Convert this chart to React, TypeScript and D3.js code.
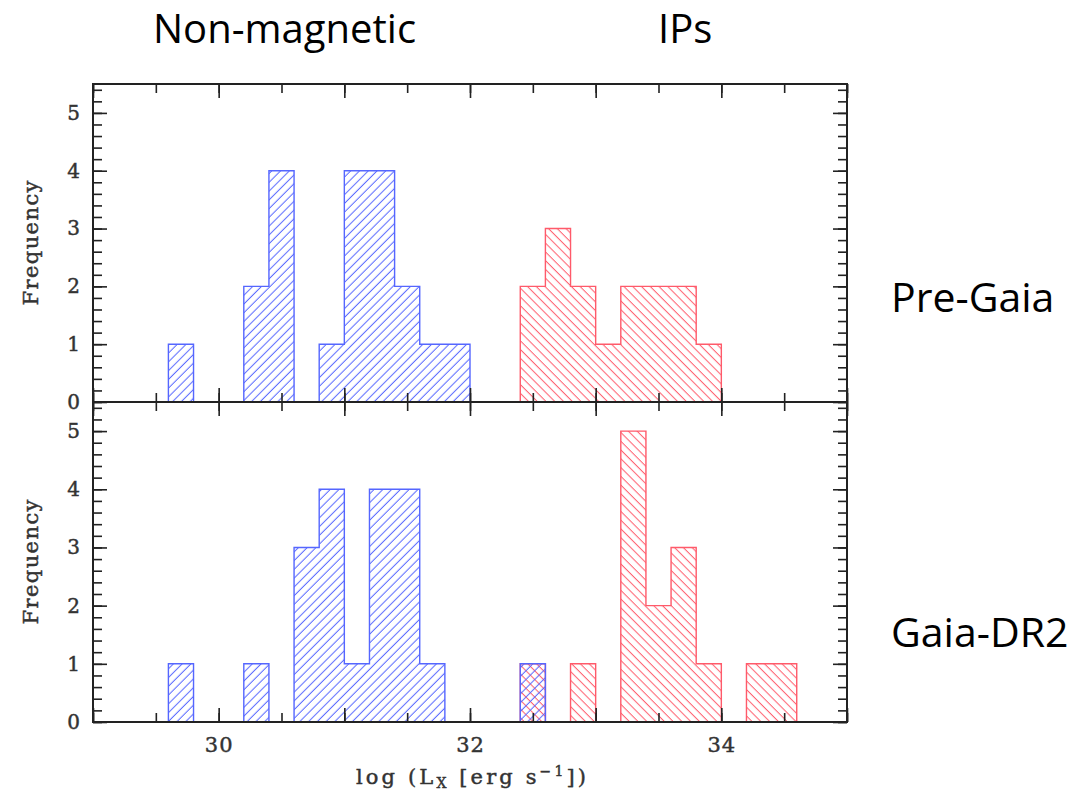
import React, { useRef, useEffect } from 'react';
import * as d3 from 'd3';

// histogram bins are 0.2 dex wide; edges below are the left edge of each non-empty bin
const binWidth = 0.2;

const preNonMagEdges = [29.6, 30.2, 30.4, 30.8, 31.0, 31.2, 31.4, 31.6, 31.8];
const preNonMagCounts = [1, 2, 4, 1, 4, 4, 2, 1, 1];
const preIPEdges = [32.4, 32.6, 32.8, 33.0, 33.2, 33.4, 33.6, 33.8];
const preIPCounts = [2, 3, 2, 1, 2, 2, 2, 1];

const dr2NonMagEdges = [29.6, 30.2, 30.6, 30.8, 31.0, 31.2, 31.4, 31.6, 32.4];
const dr2NonMagCounts = [1, 1, 3, 4, 1, 4, 4, 1, 1];
const dr2IPEdges = [32.4, 32.8, 33.2, 33.4, 33.6, 33.8, 34.2, 34.4];
const dr2IPCounts = [1, 1, 5, 2, 3, 1, 1, 1];

const xDomain: [number, number] = [29, 35];
const yDomain: [number, number] = [0, 5.5];
const xLabelTicks = [30, 32, 34];
const yLabelTicks = [0, 1, 2, 3, 4, 5];

const columnTitles = ['Non-magnetic', 'IPs'];
const panelTitles = ['Pre-Gaia', 'Gaia-DR2'];

const W = 1085;
const H = 792;

const App: React.FC = () => {
  const svgRef = useRef<SVGSVGElement | null>(null);

  useEffect(() => {
    if (!svgRef.current) return;
    const svg = d3.select(svgRef.current);
    svg.selectAll('*').remove();

    const colors = {
      blue: '#5566ff',
      red: '#ff5a6a',
      axis: '#222',
      text: '#333',
    };
    const serif = '"DejaVu Serif", serif';

    const left = 93;
    const right = 847;
    const panels = [
      { top: 84, bottom: 402, title: panelTitles[0], titleY: 312,
        series: [
          { edges: preIPEdges, counts: preIPCounts, color: colors.red, hatch: 'hatchRed' },
          { edges: preNonMagEdges, counts: preNonMagCounts, color: colors.blue, hatch: 'hatchBlue' },
        ] },
      { top: 402, bottom: 722, title: panelTitles[1], titleY: 647,
        series: [
          { edges: dr2IPEdges, counts: dr2IPCounts, color: colors.red, hatch: 'hatchRed' },
          { edges: dr2NonMagEdges, counts: dr2NonMagCounts, color: colors.blue, hatch: 'hatchBlue' },
        ] },
    ];

    const x = d3.scaleLinear().domain(xDomain).range([left, right]);

    // hatch patterns
    const defs = svg.append('defs');
    const addHatch = (id: string, color: string, angle: number) => {
      const p = defs.append('pattern')
        .attr('id', id)
        .attr('patternUnits', 'userSpaceOnUse')
        .attr('width', 6.2)
        .attr('height', 10)
        .attr('patternTransform', `rotate(${angle})`);
      p.append('line')
        .attr('x1', 3).attr('y1', 0)
        .attr('x2', 3).attr('y2', 10)
        .attr('stroke', color)
        .attr('stroke-width', 1);
    };
    addHatch('hatchBlue', colors.blue, 45);
    addHatch('hatchRed', colors.red, -45);

    const nBins = Math.round((xDomain[1] - xDomain[0]) / binWidth);
    const toSteps = (edges: number[], counts: number[]) => {
      const full = new Array(nBins).fill(0);
      edges.forEach((e, i) => {
        full[Math.round((e - xDomain[0]) / binWidth)] = counts[i];
      });
      const pts: [number, number][] = full.map((c, i) => [xDomain[0] + i * binWidth, c]);
      pts.push([xDomain[1], 0]);
      return pts;
    };

    const boldText = (sel: d3.Selection<any, unknown, any, any>) =>
      sel.attr('fill', colors.text)
        .attr('stroke', colors.text)
        .attr('stroke-width', 0.45)
        .attr('font-family', serif);

    panels.forEach((panel) => {
      const y = d3.scaleLinear().domain(yDomain).range([panel.bottom, panel.top]);
      const g = svg.append('g');

      const area = d3.area<[number, number]>()
        .curve(d3.curveStepAfter)
        .x((d) => x(d[0]))
        .y0(y(0))
        .y1((d) => y(d[1]));
      const line = d3.line<[number, number]>()
        .curve(d3.curveStepAfter)
        .x((d) => x(d[0]))
        .y((d) => y(d[1]));

      panel.series.forEach((s) => {
        g.append('path')
          .attr('d', area(toSteps(s.edges, s.counts)))
          .attr('fill', `url(#${s.hatch})`);
      });
      panel.series.forEach((s) => {
        g.append('path')
          .attr('d', line(toSteps(s.edges, s.counts)))
          .attr('fill', 'none')
          .attr('stroke', s.color)
          .attr('stroke-width', 1.4);
      });

      // axes: inward ticks on all four sides, minor + major
      const styleAxis = (sel: d3.Selection<SVGGElement, unknown, null, undefined>) => {
        sel.select('.domain').remove();
        sel.selectAll('line').attr('stroke', colors.axis).attr('stroke-width', 1.6);
        sel.selectAll('text').attr('font-size', 20).call(boldText);
      };
      const yMinor = d3.range(0, 5.41, 0.2);
      const xMinor = d3.range(29, 35.01, 0.5);

      g.append('g').attr('transform', `translate(${left},0)`)
        .call(d3.axisLeft(y).tickValues(yMinor).tickSize(-9).tickFormat(() => ''))
        .call(styleAxis);
      g.append('g').attr('transform', `translate(${left},0)`)
        .call(d3.axisLeft(y).tickValues(yLabelTicks).tickSize(-14).tickPadding(13).tickFormat(d3.format('d')))
        .call(styleAxis);
      g.append('g').attr('transform', `translate(${right},0)`)
        .call(d3.axisRight(y).tickValues(yMinor).tickSize(-9).tickFormat(() => ''))
        .call(styleAxis);
      g.append('g').attr('transform', `translate(${right},0)`)
        .call(d3.axisRight(y).tickValues(yLabelTicks).tickSize(-14).tickFormat(() => ''))
        .call(styleAxis);

      g.append('g').attr('transform', `translate(0,${panel.top})`)
        .call(d3.axisTop(x).tickValues(xMinor).tickSize(-9).tickFormat(() => ''))
        .call(styleAxis);
      g.append('g').attr('transform', `translate(0,${panel.top})`)
        .call(d3.axisTop(x).ticks(6).tickSize(-14).tickFormat(() => ''))
        .call(styleAxis);
      g.append('g').attr('transform', `translate(0,${panel.bottom})`)
        .call(d3.axisBottom(x).tickValues(xMinor).tickSize(-9).tickFormat(() => ''))
        .call(styleAxis);
      const isLower = panel.bottom > 500;
      g.append('g').attr('transform', `translate(0,${panel.bottom})`)
        .call(d3.axisBottom(x).ticks(6).tickSize(-14).tickPadding(15)
          .tickFormat((d) => (isLower && xLabelTicks.includes(+d) ? String(d) : '')))
        .call(styleAxis)
        .selectAll('text').attr('font-size', 21).attr('letter-spacing', 1);

      // frame
      g.append('rect')
        .attr('x', left).attr('y', panel.top)
        .attr('width', right - left).attr('height', panel.bottom - panel.top)
        .attr('fill', 'none')
        .attr('stroke', colors.axis)
        .attr('stroke-width', 2);

      // y label
      const cy = (panel.top + panel.bottom) / 2;
      g.append('text')
        .attr('transform', `translate(38,${cy}) rotate(-90)`)
        .attr('text-anchor', 'middle')
        .attr('font-size', 21)
        .call(boldText)
        .attr('textLength', 125)
        .attr('lengthAdjust', 'spacing')
        .text('Frequency');

      // panel title on the right
      svg.append('text')
        .attr('x', 891)
        .attr('y', panel.titleY)
        .attr('font-family', '"Open Sans", sans-serif')
        .attr('font-size', 41)
        .attr('fill', '#000')
        .text(panel.title);
    });

    // x-axis label
    const xl = svg.append('text')
      .attr('x', 471)
      .attr('y', 784)
      .attr('text-anchor', 'middle')
      .attr('font-size', 21)
      .call(boldText)
      .attr('textLength', 230)
      .attr('lengthAdjust', 'spacing');
    xl.append('tspan').text('log (L');
    xl.append('tspan').attr('font-size', 14).attr('dy', 4).text('X');
    xl.append('tspan').attr('dy', -4).text(' [erg s');
    xl.append('tspan').attr('font-size', 14).attr('dy', -8).text('\u22121');
    xl.append('tspan').attr('dy', 8).text('])');

    // column titles
    const titleX = [153, 658];
    columnTitles.forEach((t, i) => {
      svg.append('text')
        .attr('x', titleX[i])
        .attr('y', 43)
        .attr('font-family', '"Open Sans", sans-serif')
        .attr('font-size', 40)
        .attr('fill', '#000')
        .text(t);
    });
  }, []);

  return (
    <svg
      ref={svgRef}
      width={W}
      height={H}
      style={{ position: 'absolute', left: 0, top: 0, background: '#fff' }}
    />
  );
};

export default App;
